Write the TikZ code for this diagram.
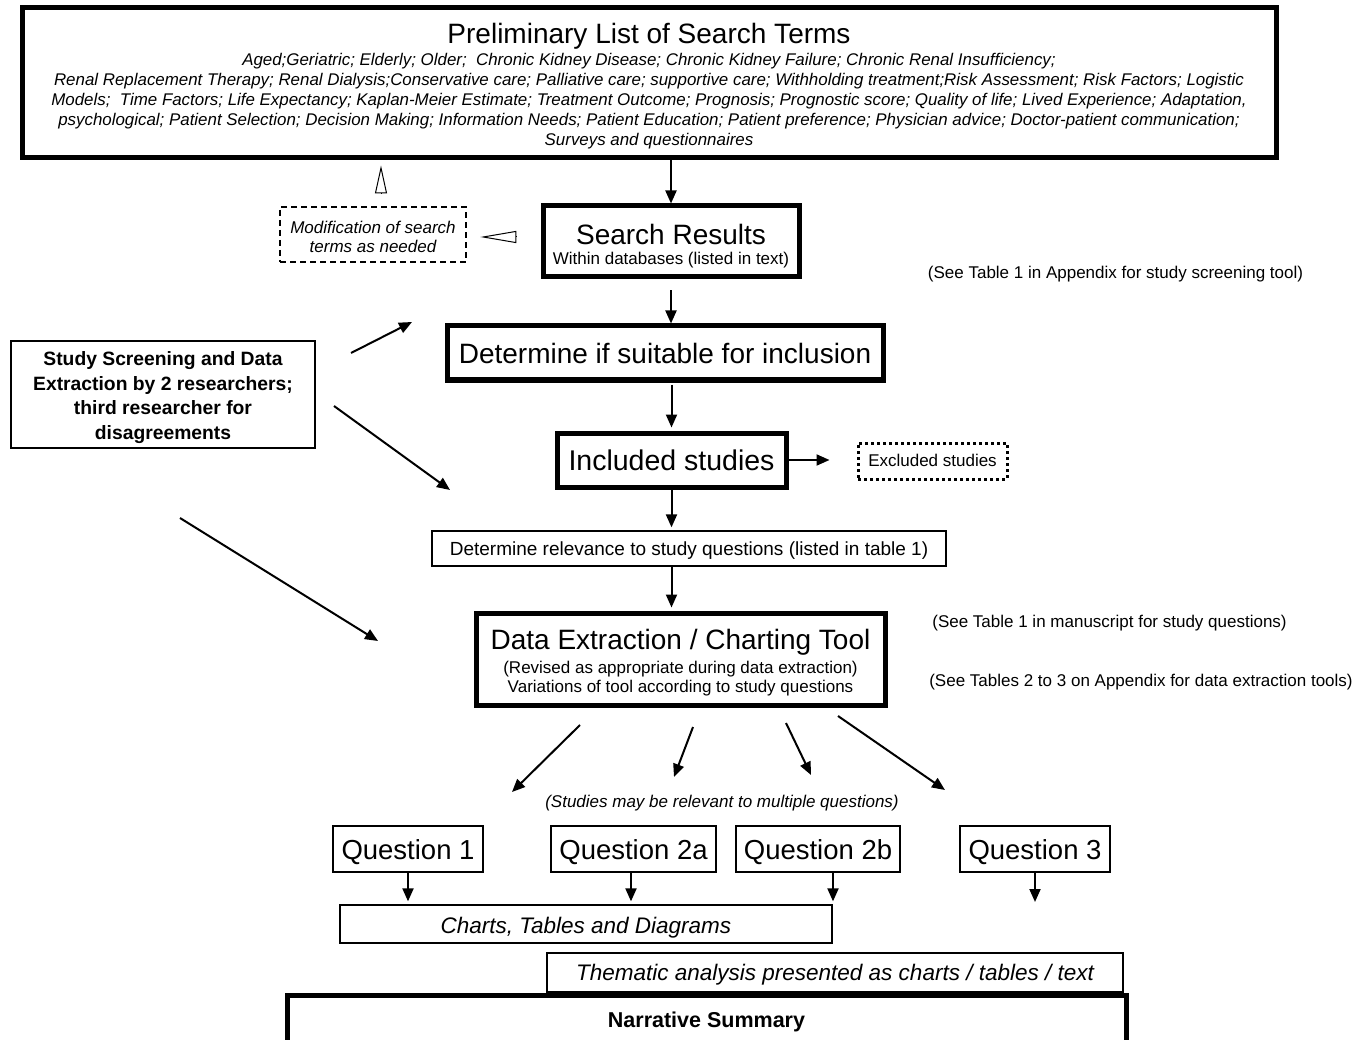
\documentclass[tikz,border=0pt]{standalone}
\usepackage{fontspec}
\setmainfont{Liberation Sans}
\usetikzlibrary{arrows.meta,calc}
\newcommand\setfs[2]{\fontsize{#1}{#2}\selectfont\spaceskip=\fontdimen2\font\xspaceskip=\fontdimen2\font\relax}
\begin{document}
\begin{tikzpicture}[x=1pt,y=-1pt,
  thickbox/.style={draw, line width=5pt, inner sep=0pt, align=center},
  thinbox/.style={draw, line width=1.3pt, inner sep=0pt, align=center},
  dashbox/.style={draw, line width=2.5pt, dash pattern=on 6pt off 4pt, inner sep=0pt, align=center},
  dotbox/.style={draw, line width=3pt, dash pattern=on 3pt off 3pt, inner sep=0pt, align=center},
  arr/.style={line width=2pt, -{Triangle[length=13pt,width=11pt]}},
  hollow/.style={line width=1pt, -{Triangle[open,length=#1,width=12pt]}},
  note/.style={inner sep=0pt, font=\setfs{17}{20}},
  tb/.style 2 args={text height=#1, text depth=#2}
]
\clip (0,0) rectangle (1365,1040);
\fill[white] (0,0) rectangle (1365,1040);

% top box
\node[thickbox, text width=1254pt, minimum height=150pt, tb={0pt}{78pt}] (top) at (649,83)
 {{\setfs{28}{30}Preliminary List of Search Terms\par}\vspace{2pt}
  {\setfs{16.9}{20}\itshape Aged;Geriatric; Elderly; Older;~ Chronic Kidney Disease; Chronic Kidney Failure; Chronic Renal Insufficiency;\\
  Renal Replacement Therapy; Renal Dialysis;Conservative care; Palliative care; supportive care; Withholding treatment;Risk Assessment; Risk Factors; Logistic\\
  Models;~ Time Factors; Life Expectancy; Kaplan-Meier Estimate; Treatment Outcome; Prognosis; Prognostic score; Quality of life; Lived Experience; Adaptation,\\
  psychological; Patient Selection; Decision Making; Information Needs; Patient Education; Patient preference; Physician advice; Doctor-patient communication;\\
  Surveys and questionnaires\par}};

\node[dashbox, text width=186pt, minimum height=55pt, tb={0pt}{2pt}] (mod) at (373,234.5)
 {\setfs{17}{19.5}\itshape Modification of search\\terms as needed\par};

\node[thickbox, text width=256pt, minimum height=71pt, tb={6pt}{0pt}] (search) at (671,241.5)
 {{\setfs{28}{29}Search Results\par}{\setfs{17}{20.5}Within databases (listed in text)\par}};

\node[note] (n1) at (1115.5,274) {(See Table 1 in Appendix for study screening tool)};

\node[thickbox, text width=436pt, minimum height=54pt, tb={20.5pt}{0pt}] (det) at (665,353)
 {\setfs{28}{30}Determine if suitable for inclusion\par};

\node[thinbox, text width=304pt, minimum height=107pt, tb={0pt}{57pt}] (screen) at (163,394.5)
 {\setfs{19.3}{24.5}\bfseries Study Screening and Data\\Extraction by 2 researchers;\\third researcher for\\disagreements\par};

\node[thickbox, text width=229pt, minimum height=54pt, tb={20pt}{0pt}] (incl) at (671.5,460)
 {\setfs{28.5}{30}Included studies\par};

\node[dotbox, text width=149pt, minimum height=36pt, tb={11.2pt}{0pt}] (excl) at (932.5,461)
 {\setfs{17}{19}Excluded studies\par};

\node[thinbox, text width=514pt, minimum height=35pt, tb={13.5pt}{0pt}] (rel) at (689,548.5)
 {\setfs{19}{20}Determine relevance to study questions (listed in table 1)\par};

\node[thickbox, text width=409pt, minimum height=92pt, tb={0pt}{20pt}] (data) at (680.5,659)
 {{\setfs{28}{29}Data Extraction / Charting Tool\par}\vspace{5.5pt}
  {\setfs{17}{19}(Revised as appropriate during data extraction)\\Variations of tool according to study questions\par}};

\node[note] (n2) at (1109.5,623) {(See Table 1 in manuscript for study questions)};
\node[note] (n3) at (1141,682) {(See Tables 2 to 3 on Appendix for data extraction tools)};
\node[note, font=\setfs{17}{20}\itshape] (n4) at (722,803) {(Studies may be relevant to multiple questions)};

\node[thinbox, text width=150pt, minimum height=46pt, tb={20.2pt}{0pt}] (q1) at (408,849) {\setfs{27.5}{30}Question 1\par};
\node[thinbox, text width=165pt, minimum height=46pt, tb={20.2pt}{0pt}] (q2a) at (633.5,849) {\setfs{27.5}{30}Question 2a\par};
\node[thinbox, text width=164pt, minimum height=46pt, tb={20.2pt}{0pt}] (q2b) at (818,849) {\setfs{27.5}{30}Question 2b\par};
\node[thinbox, text width=150pt, minimum height=46pt, tb={20.2pt}{0pt}] (q3) at (1035,849) {\setfs{27.5}{30}Question 3\par};

\node[thinbox, text width=492pt, minimum height=38pt, tb={18.8pt}{0pt}] (charts) at (586,924)
 {\setfs{22.5}{24}\itshape Charts, Tables and Diagrams\par};
\node[thinbox, text width=576pt, minimum height=39pt, tb={15.8pt}{0pt}] (them) at (835,972.5)
 {\setfs{22.5}{24}\itshape Thematic analysis presented as charts / tables / text\par};
\node[thickbox, text width=839pt, minimum height=52pt, tb={12.2pt}{0pt}] (narr) at (706.5,1021)
 {\setfs{21.5}{23}\bfseries Narrative Summary\par};

% main flow arrows
\draw[arr] (search.north |- top.south) -- (search.north);
\draw[arr, shorten <=11pt] (search.south) -- (search.south |- det.north);
\draw[arr, shorten <=2pt, shorten >=3pt] (incl.north |- det.south) -- (incl.north);
\draw[arr, shorten >=27pt] (incl.east) -- (incl.east -| excl.west);
\draw[arr, shorten >=3pt] (incl.south) -- (incl.south |- rel.north);
\draw[arr, shorten >=3pt] (incl.south |- rel.south) -- (incl.south |- data.north);

% hollow triangles
\draw[hollow=28pt, shorten <=12pt, shorten >=5pt] (mod.north -| 381,0) -- (top.south -| 381,0);
\draw[hollow=36pt, shorten <=24pt, shorten >=13pt] (search.west |- 0,237) -- (mod.east |- 0,237);

% screening arrows
\coordinate (s1a) at (351,353); \coordinate (s1b) at (412,322);
\coordinate (s2a) at (334,406); \coordinate (s2b) at (450,490);
\coordinate (s3a) at (180,518); \coordinate (s3b) at (378,641);
\draw[arr] (s1a) -- (s1b);
\draw[arr] (s2a) -- (s2b);
\draw[arr] (s3a) -- (s3b);

% data extraction to questions
\coordinate (d1a) at (580,725); \coordinate (d1b) at (512,792);
\coordinate (d2a) at (693,727); \coordinate (d2b) at (674,777);
\coordinate (d3a) at (786,723); \coordinate (d3b) at (811,775);
\coordinate (d4a) at (838,716); \coordinate (d4b) at (945,790);
\draw[arr] (d1a) -- (d1b);
\draw[arr] (d2a) -- (d2b);
\draw[arr] (d3a) -- (d3b);
\draw[arr] (d4a) -- (d4b);

% questions to charts
\draw[arr, shorten >=3pt] (q1.south) -- (q1.south |- charts.north);
\draw[arr, shorten >=3pt] (q2a.south -| 631,0) -- (charts.north -| 631,0);
\draw[arr, shorten >=3pt] (q2b.south -| 833,0) -- (charts.north -| 833,0);
\coordinate (q3end) at (1035,902);
\draw[arr] (q3.south) -- (q3end);
\end{tikzpicture}
\end{document}
